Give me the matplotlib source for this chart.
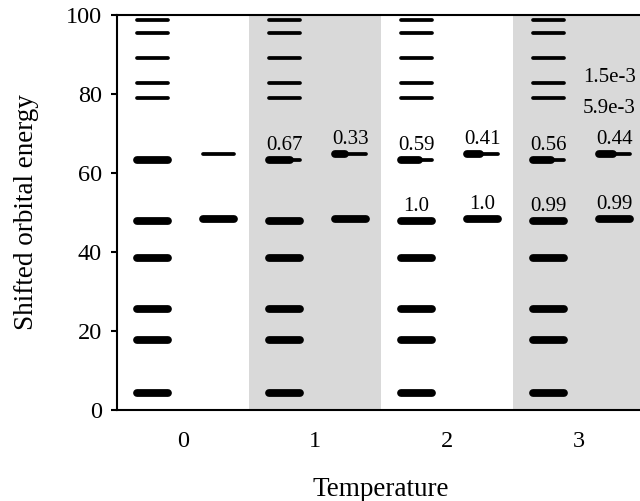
import matplotlib
matplotlib.use('Agg')
from matplotlib import pyplot as plt

plt.rcParams['font.family'] = 'serif'
plt.rcParams['font.serif'] = ['Liberation Serif', 'DejaVu Serif']

temperatures = [0, 1, 2, 3]
# orbital energies, left column (a) and right column (b)
levels_a = [98.7, 95.4, 89.0, 82.7, 78.9, 63.3, 47.8, 38.4, 25.5, 17.7, 4.2]
levels_b = [64.7, 48.3]
# occupations per temperature
occ_a = [
    [0, 0, 0, 0, 0, 1.0, 1.0, 1, 1, 1, 1],
    [0, 0, 0, 0, 0, 0.67, 1.0, 1, 1, 1, 1],
    [0, 0, 0, 0, 0, 0.59, 1.0, 1, 1, 1, 1],
    [0, 0, 0, 1.5e-3, 5.9e-3, 0.56, 0.99, 1, 1, 1, 1],
]
occ_b = [
    [0, 1.0],
    [0.33, 1.0],
    [0.41, 1.0],
    [0.44, 0.99],
]
# labelled occupations: (temperature, column, level index, text)
notes = [
    (1, 'a', 5, '0.67'), (1, 'b', 0, '0.33'),
    (2, 'a', 5, '0.59'), (2, 'b', 0, '0.41'),
    (2, 'a', 6, '1.0'), (2, 'b', 1, '1.0'),
    (3, 'a', 5, '0.56'), (3, 'b', 0, '0.44'),
    (3, 'a', 6, '0.99'), (3, 'b', 1, '0.99'),
]
side_notes = [(3, 3, '1.5e-3'), (3, 4, '5.9e-3')]

span = {'a': (-0.35, -0.11), 'b': (0.15, 0.39)}
levels = {'a': levels_a, 'b': levels_b}


def draw_level(ax, x0, x1, y, occ):
    ax.plot([x0, x1], [y, y], color='k', lw=2.7, solid_capstyle='round')
    if occ > 0:
        ax.plot([x0, x0 + occ * (x1 - x0)], [y, y], color='k', lw=5.6,
                solid_capstyle='round')


fig = plt.figure(figsize=(6.4, 5.01), dpi=100)
ax = fig.add_axes([117 / 640, 1 - 410 / 501, 528 / 640, 395 / 501])

for t in (1, 3):
    ax.axvspan(t - 0.5, t + 0.5, color='0.85', lw=0, zorder=0)

for i, t in enumerate(temperatures):
    for col, occs in (('a', occ_a[i]), ('b', occ_b[i])):
        lo, hi = span[col]
        for y, occ in zip(levels[col], occs):
            draw_level(ax, t + lo, t + hi, y, occ)

for t, col, k, txt in notes:
    lo, hi = span[col]
    ax.text(t + (lo + hi) / 2, levels[col][k] + 2.6, txt, ha='center',
            va='baseline', fontsize=15)

for j, (t, k, txt) in enumerate(side_notes):
    dy = 1.6 if j == 0 else -2.6
    ax.text(t + 0.03, levels_a[k] + dy, txt, ha='left', va='center',
            fontsize=15)

ax.set_xlim(-0.5, 3.5)
ax.set_ylim(0, 100)
ax.set_xticks(temperatures)
ax.set_yticks([0, 20, 40, 60, 80, 100])
ax.tick_params(axis='x', length=0, pad=15, labelsize=17.5)
ax.tick_params(axis='y', direction='out', length=4, width=1.5, pad=7,
               labelsize=17.5)
for s in ('left', 'bottom', 'top'):
    ax.spines[s].set_linewidth(1.5)
ax.spines['right'].set_visible(False)
ax.set_xlabel('Temperature', fontsize=19.5, labelpad=18)
ax.set_ylabel('Shifted orbital energy', fontsize=19.5, labelpad=19)

fig.savefig('out.png', dpi=100)
